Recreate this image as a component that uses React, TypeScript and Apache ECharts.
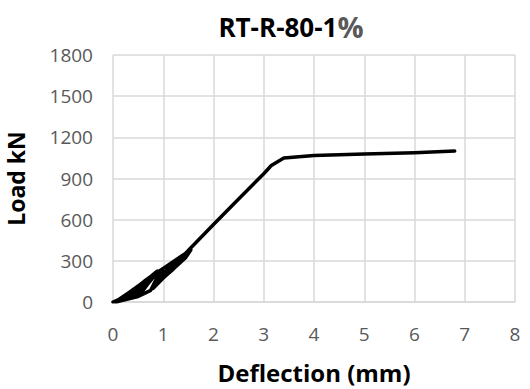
import React, { useEffect, useRef } from "react";
import * as echarts from "echarts";

const deflection: number[] = [
  0, 0.1, 0.3, 0.55, 0.5, 0.35, 0.1,
  0.3, 0.65, 0.8, 0.7, 0.55, 0.1,
  0.35, 0.7, 0.88, 0.8, 0.6, 0.3, 0.05,
  0.45, 0.85, 1.0, 0.9, 0.75, 0.5, 0.05,
  0.6, 1.0, 1.3, 1.55, 1.45, 1.2, 1.0, 0.8,
  0.95, 1.25, 1.5, 1.4, 1.15, 0.95,
  1.0, 1.3, 1.55, 2.0, 2.5, 3.0, 3.15, 3.4, 4.0, 5.0, 6.0, 6.8,
];
const load: number[] = [
  0, 15, 65, 130, 105, 50, 5,
  55, 160, 200, 135, 60, 3,
  60, 170, 225, 180, 90, 30, 0,
  90, 210, 245, 195, 85, 40, 0,
  120, 245, 320, 380, 325, 240, 175, 100,
  190, 295, 370, 330, 235, 180,
  200, 300, 395, 565, 750, 935, 995, 1050, 1068, 1078, 1088, 1100,
];
const xTicks = { min: 0, max: 8, interval: 1 };
const yTicks = { min: 0, max: 1800, interval: 300 };

export default function App() {
  const ref = useRef<HTMLDivElement>(null);
  useEffect(() => {
    const chart = echarts.init(ref.current!, null, { renderer: "svg" });
    const data = deflection.map((d, i) => [d, load[i]]);
    chart.setOption({
      animation: false,
      backgroundColor: "#ffffff",
      title: {
        text: "{a|RT-R-80-1}{b|%}",
        left: 286,
        top: 7,
        textAlign: "center",
        textStyle: {
          rich: {
            a: { fontFamily: "Open Sans", fontWeight: "bold", fontSize: 26, color: "#000" },
            b: { fontFamily: "Open Sans", fontWeight: "bold", fontSize: 29, color: "#595959" },
          },
        },
      },
      grid: { left: 113, right: 15, top: 55, bottom: 87, outerBoundsMode: "none", containLabel: false },
      xAxis: {
        type: "value",
        ...xTicks,
        name: "Deflection (mm)",
        nameLocation: "middle",
        nameGap: 58,
        nameTextStyle: { fontFamily: "Open Sans", fontWeight: "bold", fontSize: 24, color: "#000" },
        axisLine: { show: true, lineStyle: { color: "#d9d9d9", width: 1.5 } },
        axisTick: { show: false },
        axisLabel: {
          margin: 22,
          fontFamily: "Open Sans",
          fontSize: 19,
          color: "#595959",
          formatter: (v: number) => String(v),
        },
        splitLine: { show: true, lineStyle: { color: "#d9d9d9", width: 1.5 } },
      },
      yAxis: {
        type: "value",
        ...yTicks,
        name: "Load kN",
        nameLocation: "middle",
        nameGap: 86,
        nameRotate: 90,
        nameTextStyle: { fontFamily: "Open Sans", fontWeight: "bold", fontSize: 23, color: "#000" },
        axisLine: { show: false },
        axisTick: { show: false },
        axisLabel: {
          margin: 20,
          fontFamily: "Open Sans",
          fontSize: 19,
          color: "#595959",
          formatter: (v: number) => String(v),
        },
        splitLine: { show: true, lineStyle: { color: "#d9d9d9", width: 1.5 } },
      },
      series: [
        {
          type: "line",
          data,
          showSymbol: false,
          smooth: false,
          lineStyle: { color: "#000", width: 3.5, join: "round", cap: "round" },
        },
      ],
    });
    return () => chart.dispose();
  }, []);
  return (
    <div
      ref={ref}
      style={{ position: "absolute", left: 0, top: 0, width: 530, height: 389 }}
    />
  );
}
